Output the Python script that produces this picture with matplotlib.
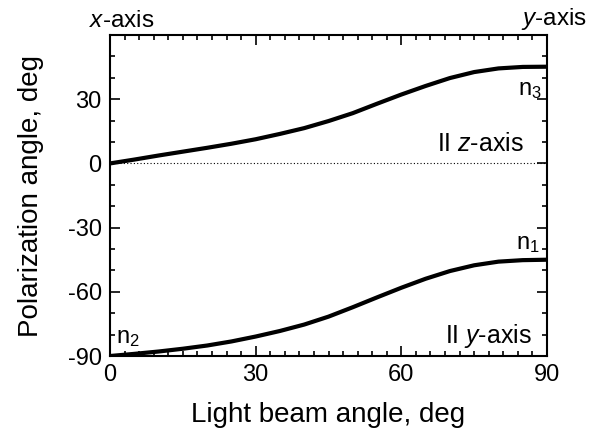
import matplotlib
matplotlib.use('Agg')
import matplotlib.pyplot as plt
from matplotlib.ticker import MultipleLocator

plt.rcParams['font.family'] = ['Liberation Sans', 'DejaVu Sans']
plt.rcParams['mathtext.fontset'] = 'custom'
plt.rcParams['mathtext.rm'] = 'Liberation Sans'
plt.rcParams['mathtext.it'] = 'Liberation Sans:italic'
plt.rcParams['axes.unicode_minus'] = False

# Values
beam_angle = [0, 5, 10, 15, 20, 25, 30, 35, 40, 45, 50, 55, 60, 65, 70, 75, 80, 85, 90]
pol_upper = [0, 1.8, 3.7, 5.5, 7.3, 9.2, 11.3, 13.8, 16.5, 19.8, 23.5, 27.9, 32.2,
             36.2, 39.9, 42.7, 44.4, 45.1, 45.2]
pol_lower = [-90, -89.0, -87.9, -86.6, -85.1, -83.2, -80.9, -78.3, -75.3, -71.6, -67.2,
             -62.6, -58.1, -53.9, -50.3, -47.6, -45.9, -45.2, -45.0]
zero_x = [0, 90]
zero_y = [0, 0]

fig = plt.figure(figsize=(5.89, 4.38), dpi=100)
ax = fig.add_axes([0.1868, 0.1872, 0.7419, 0.7328])

# Curves
ax.plot(beam_angle, pol_upper, color='black', lw=3, solid_joinstyle='round')
ax.plot(beam_angle, pol_lower, color='black', lw=3, solid_joinstyle='round')
ax.plot(zero_x, zero_y, color='black', lw=0.8, ls=(0, (1, 2)))

ax.set_xlim(0, 90)
ax.set_ylim(-90, 60)
ax.set_xticks([0, 30, 60, 90])
ax.set_yticks([-90, -60, -30, 0, 30])
ax.xaxis.set_minor_locator(MultipleLocator(3))
ax.yaxis.set_minor_locator(MultipleLocator(10))
ax.tick_params(which='both', direction='in', top=True, right=True, width=1.2,
               labelsize=17, pad=6)
ax.tick_params(which='major', length=7)
ax.tick_params(which='minor', length=3.5)
for s in ax.spines.values():
    s.set_linewidth(1.5)

ax.set_xlabel('Light beam angle, deg', fontsize=20)
ax.set_ylabel('Polarization angle, deg', fontsize=20)
ax.xaxis.set_label_coords(0.5, -0.143)
ax.yaxis.set_label_coords(-0.151, 0.5)

# Annotations
ax.text(2.5, 61.5, '$x$-axis', fontsize=17.5, ha='center', va='bottom', clip_on=False)
ax.text(91.5, 61.5, '$y$-axis', fontsize=17.5, ha='center', va='bottom', clip_on=False)
ax.text(89.0, 32, 'n$_3$', fontsize=17, ha='right', va='baseline')
ax.text(88.5, -40, 'n$_1$', fontsize=17, ha='right', va='baseline')
ax.text(1.2, -84, 'n$_2$', fontsize=17, ha='left', va='baseline')
ax.text(85.2, 6.0, 'II $z$-axis', fontsize=18, ha='right', va='baseline')
ax.text(86.9, -84, 'II $y$-axis', fontsize=18, ha='right', va='baseline')

fig.savefig('out.png', dpi=100)
